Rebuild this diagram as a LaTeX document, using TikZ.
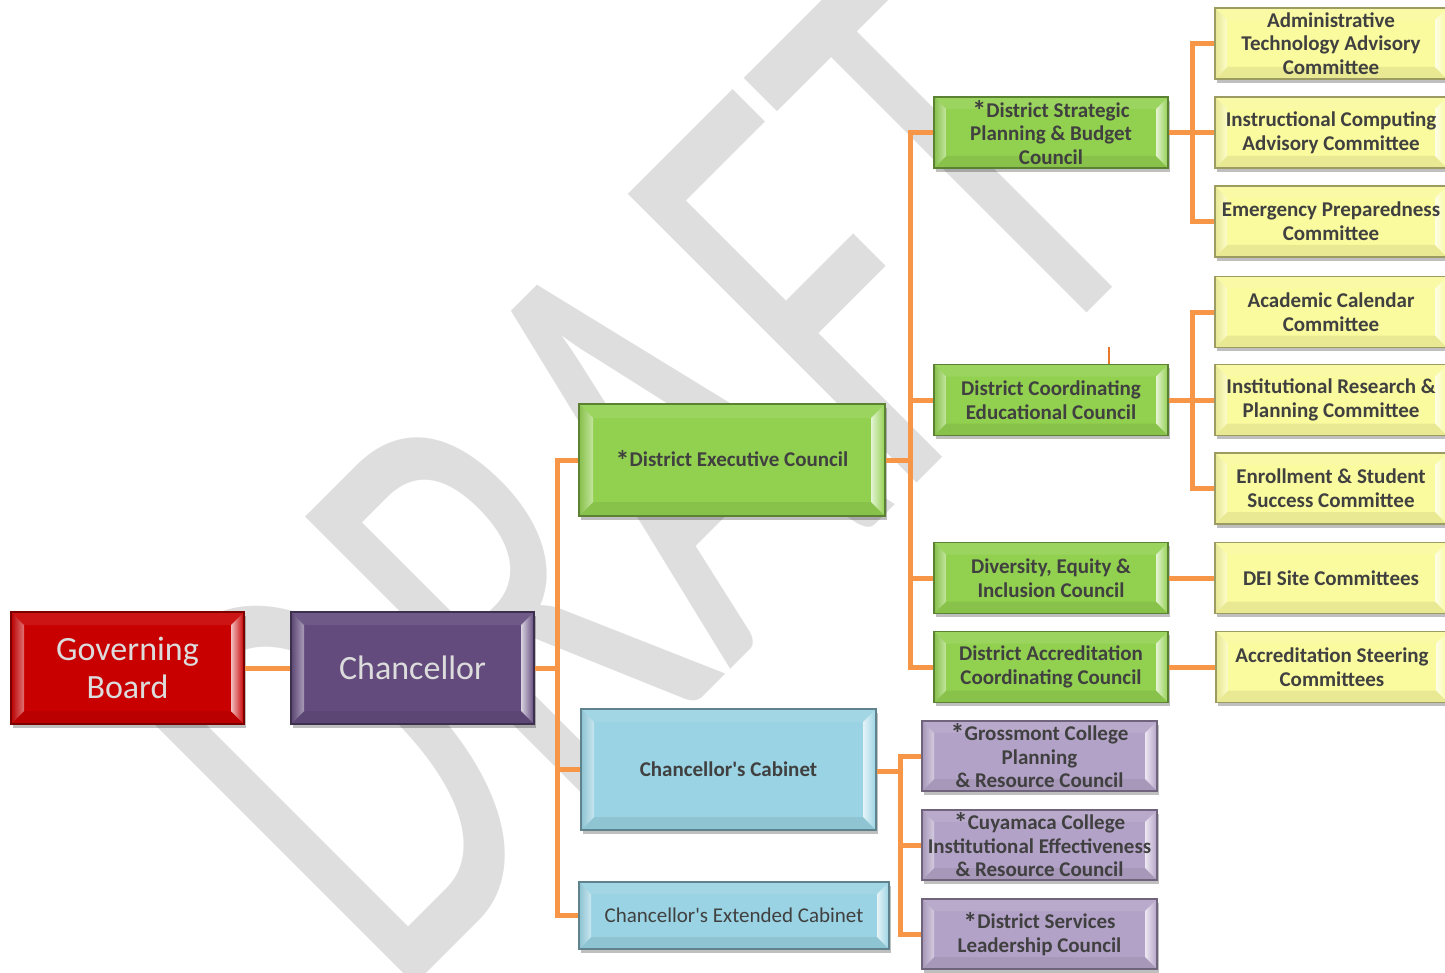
\documentclass[tikz,border=0pt]{standalone}
\usepackage{fontspec}
\setmainfont{Carlito}
\usetikzlibrary{calc,shadows}
\definecolor{cred}{HTML}{C80000}
\definecolor{cpur}{HTML}{634B7D}
\definecolor{cgrn}{HTML}{92D050}
\definecolor{cblu}{HTML}{9AD3E3}
\definecolor{cyel}{HTML}{FAFA9E}
\definecolor{clav}{HTML}{B3A2C7}
\definecolor{corg}{HTML}{F79646}
\definecolor{ctxt}{HTML}{404040}
\definecolor{clt}{HTML}{DCDCDC}
\definecolor{cwm}{HTML}{DEDEDE}
\definecolor{ctick}{HTML}{E8782A}
\def\bevw{6pt}
\newcommand\astk{\raisebox{-1.6pt}{\fontsize{14pt}{0pt}\selectfont *}}
\tikzset{
  bev/.code={\def\bevw{#1}},
  bx/.style={rectangle, inner sep=0pt, align=center, fill=#1, draw=#1!62!black,
    line width=0.6pt, text=ctxt, font=\fontsize{10.5pt}{11.8pt}\selectfont\bfseries,
    drop shadow={shadow xshift=1.2pt, shadow yshift=-1.8pt, opacity=0.25, fill=black},
    path picture={
      \path (path picture bounding box.south west) coordinate (pSW)
            (path picture bounding box.north east) coordinate (pNE)
            (path picture bounding box.north west) coordinate (pNW)
            (path picture bounding box.south east) coordinate (pSE);
      \fill[#1!93!black] (pSW) -- (pSE) -- ++(-\bevw,\bevw) -- ($(pSW)+(\bevw,\bevw)$) -- cycle;
      \fill[#1!92!white] (pNW) -- (pNE) -- ++(-\bevw,-\bevw) -- ($(pNW)+(\bevw,-\bevw)$) -- cycle;
      \shade[left color=#1!92!black, right color=#1!55!white] (pNW) -- (pSW) -- ++(\bevw,\bevw) -- ($(pNW)+(\bevw,-\bevw)$) -- cycle;
      \shade[left color=#1!25!white, right color=#1] (pNE) -- (pSE) -- ++(-\bevw,\bevw) -- ($(pNE)+(-\bevw,-\bevw)$) -- cycle;
    }},
  big/.style={font=\fontsize{17pt}{19pt}\selectfont, text=clt, bev=6.5pt},
  reg/.style={font=\fontsize{10.5pt}{11.8pt}\selectfont},
  sz/.style 2 args={minimum width=#1, minimum height=#2},
  conn/.style={draw=corg, line width=2.5pt, line join=miter},
}
\begin{document}
\begin{tikzpicture}[x=0.5pt, y=0.5pt]
\useasboundingbox (0,0) rectangle (1445,-973);
% watermark
\begin{scope}[shift={(783,-617)}, rotate=45, yscale=1.56, transform shape]
  \node[anchor=base, inner sep=0pt, text=cwm, font=\fontsize{204pt}{204pt}\selectfont] (wm) at (0,0) {DRAFT};
\end{scope}
% level 0/1
\node[bx=cred, big, sz={116.5pt}{56pt}] (gb) at (127.5,-668) {Governing\\Board};
\node[bx=cpur, big, sz={121.5pt}{56pt}] (ch) at (412.5,-668) {Chancellor};
% level 2
\node[bx=cgrn, bev=7pt, sz={153pt}{56pt}] (dec) at (732,-460) {\astk District Executive Council};
\node[bx=cblu, bev=6.5pt, sz={147.5pt}{60.5pt}] (cab) at (728.5,-769.5) {Chancellor\textquotesingle s Cabinet};
\node[bx=cblu, reg, sz={155pt}{33.5pt}] (ext) at (734,-915.5) {Chancellor\textquotesingle s Extended Cabinet};
% level 3 green
\node[bx=cgrn, sz={117pt}{35.5pt}] (dspbc) at (1051,-132.5) {\astk District Strategic\\Planning \& Budget\\Council};
\node[bx=cgrn, sz={117pt}{35.5pt}] (dcec) at (1051,-400) {District Coordinating\\Educational Council};
\node[bx=cgrn, sz={117pt}{35.5pt}] (dei) at (1051,-578) {Diversity, Equity \&\\Inclusion Council};
\node[bx=cgrn, sz={117pt}{35.5pt}] (dacc) at (1051,-667) {District Accreditation\\Coordinating Council};
% level 4 yellow
\node[bx=cyel, sz={116pt}{35.5pt}] (y1) at (1331,-43.5) {Administrative\\Technology Advisory\\Committee};
\node[bx=cyel, sz={116pt}{35.5pt}] (y2) at (1331,-132.5) {Instructional Computing\\Advisory Committee};
\node[bx=cyel, sz={116pt}{35.5pt}] (y3) at (1331,-221.5) {Emergency Preparedness\\Committee};
\node[bx=cyel, sz={116pt}{35.5pt}] (y4) at (1331,-312) {Academic Calendar\\Committee};
\node[bx=cyel, sz={116pt}{35.5pt}] (y5) at (1331,-400) {Institutional Research \&\\Planning Committee};
\node[bx=cyel, sz={116pt}{35.5pt}] (y6) at (1331,-488.5) {Enrollment \& Student\\Success Committee};
\node[bx=cyel, sz={116pt}{35.5pt}] (y7) at (1331,-578) {DEI Site Committees};
\node[bx=cyel, sz={116pt}{35.5pt}] (y8) at (1332,-667) {Accreditation Steering\\Committees};
% purple
\node[bx=clav, sz={117.5pt}{35pt}] (p1) at (1039.5,-756) {\astk Grossmont College\\Planning\\\& Resource Council};
\node[bx=clav, sz={117.5pt}{35pt}] (p2) at (1039.5,-845) {\astk Cuyamaca College\\Institutional Effectiveness\\\& Resource Council};
\node[bx=clav, sz={117.5pt}{35pt}] (p3) at (1039.5,-934) {\astk District Services\\Leadership Council};
% bus coordinates
\coordinate (chbus) at (557,-668);
\coordinate (decbus) at (910,-460);
\coordinate (sbus) at (1192,-132.5);
\coordinate (cbus) at (1192,-400);
\coordinate (cabbus) at (900,-771);
\coordinate (tk) at (1109,-347);
% connectors
\draw[conn] (gb) -- (ch);
\draw[conn] (ch.east) -- (chbus);
\draw[conn] (dec.west) -| (chbus) |- (ext.west);
\draw[conn] (cab.west) -| (chbus);
\draw[conn] (dec.east) -- (decbus);
\draw[conn] (dspbc.west) -| (decbus) |- (dacc.west);
\draw[conn] (dcec.west) -| (decbus);
\draw[conn] (dei.west) -| (decbus);
\draw[conn] (dspbc) -- (y2);
\draw[conn] (y1.west) -| (sbus) |- (y3.west);
\draw[conn] (dcec) -- (y5);
\draw[conn] (y4.west) -| (cbus) |- (y6.west);
\draw[conn] (dei) -- (y7);
\draw[conn] (dacc) -- (y8);
\draw[conn] (cab.east |- cabbus) -- (cabbus);
\draw[conn] (p1.west) -| (cabbus) |- (p3.west);
\draw[conn] (p2.west) -| (cabbus);
\draw[ctick, line width=1.1pt] (tk) -- (tk |- dcec.north);
\end{tikzpicture}
\end{document}
